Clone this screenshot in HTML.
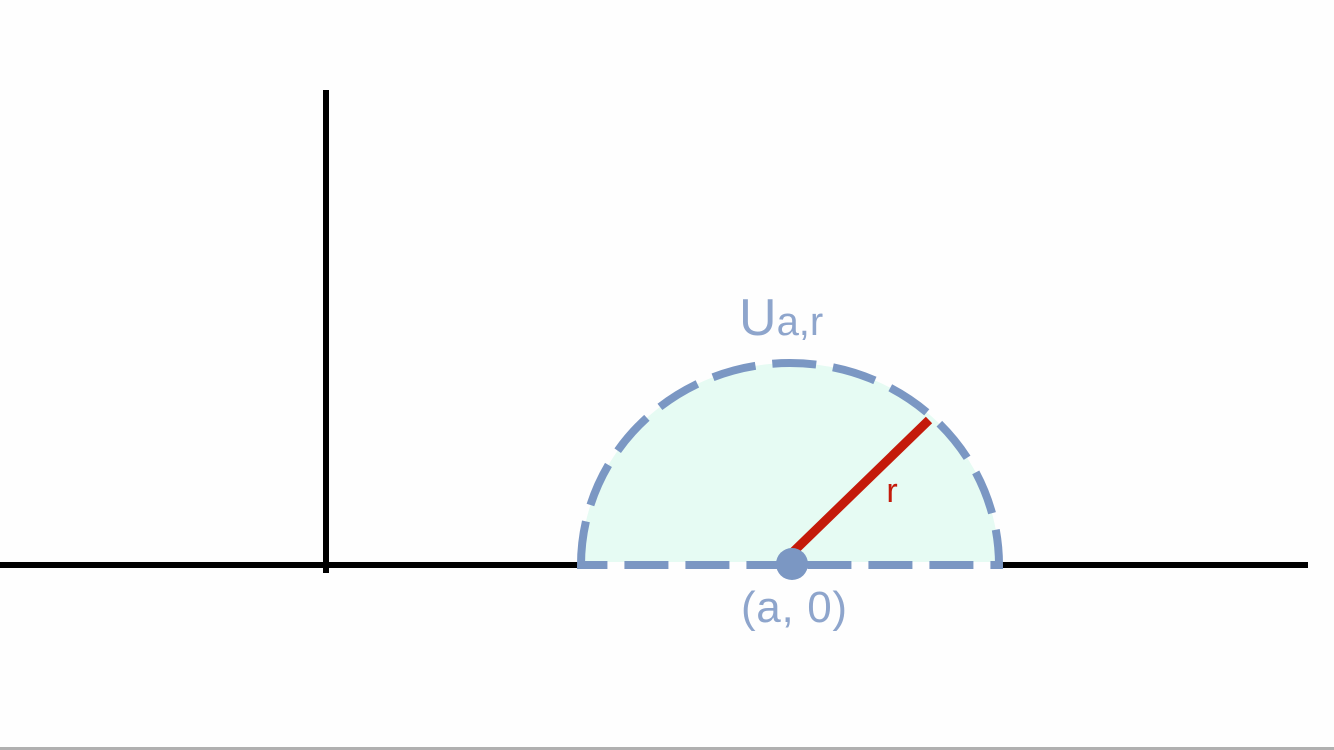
<!DOCTYPE html>
<html><head><meta charset="utf-8"><style>
html,body{margin:0;padding:0;background:#fff;}
svg{display:block;font-family:"Liberation Sans",sans-serif;}
</style></head><body>
<svg width="1334" height="750" viewBox="0 0 1334 750">
<rect x="0" y="0" width="1334" height="750" fill="#fefefe"/>
<rect x="0" y="747" width="1334" height="3" fill="#b0b0b0"/>
<line x1="0" y1="565" x2="1308" y2="565" stroke="#000" stroke-width="6"/>
<line x1="326" y1="90" x2="326" y2="573" stroke="#000" stroke-width="6"/>
<path d="M581,565 A209,202 0 0 1 999,565 Z" fill="#e6fbf3"/>
<rect x="582" y="562" width="416" height="6" fill="#fefefe"/>
<path d="M581,565 A209,202 0 0 1 999,565 Z" fill="none" stroke="#7b97c3" stroke-width="8" stroke-dasharray="44,17"/>
<line x1="793" y1="552" x2="929" y2="420" stroke="#c41a0a" stroke-width="9"/>
<circle cx="792" cy="564" r="16" fill="#7b97c3"/>
<text x="892" y="502" font-size="34" fill="#c41a0a" text-anchor="middle">r</text>
<text x="794" y="622" font-size="44" fill="#8ea5cc" text-anchor="middle" textLength="106">(a, 0)</text>
<text x="739" y="335" fill="#8ea5cc"><tspan font-size="52">U</tspan><tspan font-size="40">a,r</tspan></text>
</svg>
</body></html>
